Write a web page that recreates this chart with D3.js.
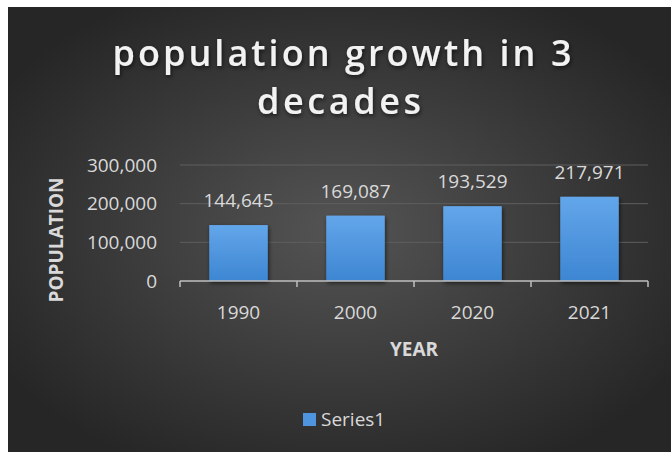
<!DOCTYPE html>
<html>
<head>
<meta charset="utf-8">
<script src="https://cdn.jsdelivr.net/npm/d3@7"></script>
<style>
  body { margin: 0; background: #fff; }
  svg { display: block; }
  text { font-family: "Open Sans", sans-serif; }
</style>
</head>
<body>
<div id="chart"></div>
<script>
// chart values
const years = ["1990", "2000", "2020", "2021"];
const population = [144645, 169087, 193529, 217971];
const yTicks = [0, 100000, 200000, 300000];
const titleLines = ["population growth in 3", "decades"];
const seriesName = "Series1";

const W = 671, H = 452;

const svg = d3.select("#chart")
  .append("svg")
  .attr("width", W)
  .attr("height", H);

const defs = svg.append("defs");

// dark radial background like the office theme
const bg = defs.append("radialGradient")
  .attr("id", "bg")
  .attr("cx", "50%").attr("cy", "50%").attr("r", "60%");
bg.append("stop").attr("offset", "0%").attr("stop-color", "#545454");
bg.append("stop").attr("offset", "100%").attr("stop-color", "#262626");

const barGrad = defs.append("linearGradient")
  .attr("id", "barGrad")
  .attr("x1", 0).attr("y1", 0).attr("x2", 0).attr("y2", 1);
barGrad.append("stop").attr("offset", "0%").attr("stop-color", "#63a6ea");
barGrad.append("stop").attr("offset", "100%").attr("stop-color", "#3d86d2");

const shadow = defs.append("filter").attr("id", "shadow")
  .attr("x", "-20%").attr("y", "-20%").attr("width", "140%").attr("height", "140%");
shadow.append("feDropShadow")
  .attr("dx", 1).attr("dy", 2).attr("stdDeviation", 2)
  .attr("flood-color", "#000").attr("flood-opacity", 0.6);

svg.append("rect")
  .attr("x", 8).attr("y", 7)
  .attr("width", W - 8).attr("height", H - 7)
  .attr("fill", "url(#bg)");

// title
const titleG = svg.append("g").attr("filter", "url(#shadow)");
titleG.selectAll("text")
  .data(titleLines)
  .enter()
  .append("text")
  .attr("x", (_, i) => i === 0 ? 342 : 339)
  .attr("y", (_, i) => i === 0 ? 66 : 114)
  .attr("text-anchor", "middle")
  .attr("font-size", 36)
  .attr("font-weight", 600)
  .attr("fill", "#f2f2f2")
  .attr("textLength", (_, i) => i === 0 ? 459 : 164)
  .attr("lengthAdjust", "spacing")
  .text(d => d);

// scales
const x = d3.scaleBand()
  .domain(years)
  .range([180, 648])
  .paddingInner(0.5)
  .paddingOuter(0.25);

const y = d3.scaleLinear()
  .domain([0, 300000])
  .range([281, 165]);

// gridlines
svg.append("g")
  .selectAll("line")
  .data(yTicks.slice(1))
  .enter()
  .append("line")
  .attr("x1", 180).attr("x2", 648)
  .attr("y1", d => y(d)).attr("y2", d => y(d))
  .attr("stroke", "#5e5e5e")
  .attr("stroke-width", 1);

// y axis labels
const yAxis = svg.append("g")
  .attr("transform", "translate(157,0)")
  .call(d3.axisLeft(y).tickValues(yTicks).tickFormat(d3.format(",")).tickSize(0).tickPadding(0));
yAxis.select(".domain").remove();
yAxis.selectAll("text")
  .attr("font-size", 19)
  .attr("fill", "#d9d9d9")
  .attr("font-family", "Open Sans, sans-serif");

// bars
svg.append("g")
  .attr("filter", "url(#shadow)")
  .selectAll("rect")
  .data(population)
  .enter()
  .append("rect")
  .attr("x", (_, i) => x(years[i]))
  .attr("y", d => y(d))
  .attr("width", x.bandwidth())
  .attr("height", d => y(0) - y(d))
  .attr("fill", "url(#barGrad)");

// data labels
svg.append("g")
  .selectAll("text")
  .data(population)
  .enter()
  .append("text")
  .attr("x", (_, i) => x(years[i]) + x.bandwidth() / 2)
  .attr("y", d => y(d) - 18)
  .attr("text-anchor", "middle")
  .attr("font-size", 19)
  .attr("fill", "#d9d9d9")
  .text(d => d3.format(",")(d));

// x axis with ticks between categories
const xAxisG = svg.append("g").attr("transform", "translate(0,281)");
xAxisG.append("line")
  .attr("x1", 180).attr("x2", 648)
  .attr("stroke", "#bfbfbf").attr("stroke-width", 1.5);
const bounds = [180].concat(years.map(d => x(d) + x.step() * 0.75));
xAxisG.selectAll(".tick-mark")
  .data(bounds)
  .enter()
  .append("line")
  .attr("class", "tick-mark")
  .attr("x1", d => d).attr("x2", d => d)
  .attr("y1", 0).attr("y2", 6)
  .attr("stroke", "#bfbfbf").attr("stroke-width", 1.5);
xAxisG.selectAll(".xlab")
  .data(years)
  .enter()
  .append("text")
  .attr("class", "xlab")
  .attr("x", d => x(d) + x.bandwidth() / 2)
  .attr("y", 38)
  .attr("text-anchor", "middle")
  .attr("font-size", 19)
  .attr("fill", "#d9d9d9")
  .text(d => d);

// axis titles
svg.append("text")
  .attr("x", 414).attr("y", 356)
  .attr("text-anchor", "middle")
  .attr("font-size", 19)
  .attr("font-weight", 700)
  .attr("fill", "#d9d9d9")
  .text("YEAR");

svg.append("text")
  .attr("transform", "translate(63,240) rotate(-90)")
  .attr("text-anchor", "middle")
  .attr("font-size", 19)
  .attr("font-weight", 700)
  .attr("fill", "#d9d9d9")
  .text("POPULATION");

// legend
const legend = svg.append("g").attr("transform", "translate(303,413)");
legend.append("rect")
  .attr("width", 13).attr("height", 13)
  .attr("fill", "#4f94df");
legend.append("text")
  .attr("x", 18).attr("y", 13)
  .attr("font-size", 19)
  .attr("fill", "#d9d9d9")
  .text(seriesName);
</script>
</body>
</html>
